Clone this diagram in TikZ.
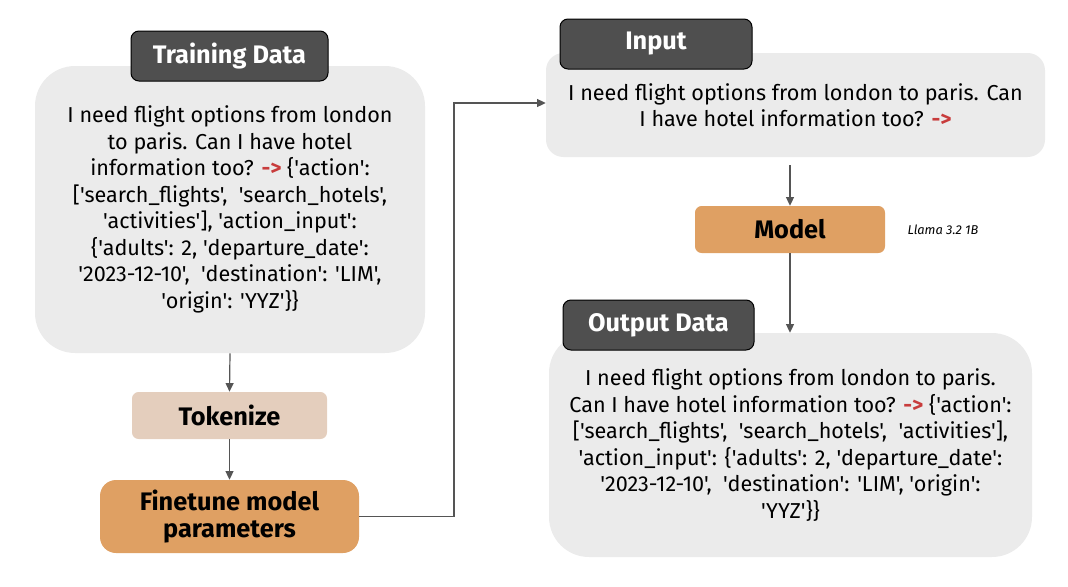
\documentclass[tikz,border=0pt]{standalone}
\usepackage{fontspec}
\setmainfont{Fira Sans}[Ligatures=TeXOff]
\usetikzlibrary{arrows.meta,calc}
\definecolor{boxgray}{HTML}{EBEBEB}
\definecolor{tabdark}{HTML}{4F4F4F}
\definecolor{orangebox}{HTML}{DFA063}
\definecolor{tokbox}{HTML}{E4CEBD}
\definecolor{linegray}{HTML}{555555}
\definecolor{arrowred}{HTML}{C83C3C}
\newcommand{\rarr}{\textcolor{arrowred}{\bfseries ->}}
\tikzset{
  bigbox/.style={fill=boxgray, draw=none, inner sep=0pt, align=center,
    font=\fontsize{16.2pt}{19.9pt}\selectfont},
  tabbox/.style={fill=tabdark, draw=black, line width=0.75pt, rounded corners=6pt,
    inner sep=0pt, text=white, font=\fontsize{19pt}{21pt}\selectfont\bfseries},
  stepbox/.style={draw=none, inner sep=0pt, align=center,
    font=\fontsize{19pt}{20pt}\selectfont\bfseries},
  conn/.style={draw=linegray, line width=0.9pt, -{Triangle[length=6.5pt,width=6pt]}},
}
\begin{document}
\begin{tikzpicture}[x=0.75pt,y=-0.75pt]
\useasboundingbox (0,0) rectangle (1068,586);
% training
\node[bigbox, rounded corners=30pt, minimum width=292.5pt, minimum height=215.25pt] (train) at (230,209.5)
{I need flight options from london\\
to paris. Can I have hotel\\
information too? \rarr\ \{'action':\\\relax
['search\_flights',\ \ 'search\_hotels',\\
'activities'], 'action\_input':\\
\{'adults': 2, 'departure\_date':\\
'2023-12-10',\ \ 'destination': 'LIM',\\
'origin': 'YYZ'\}\}};
\node[tabbox, minimum width=147.75pt, minimum height=37.5pt] (traintab) at (229.5,56) {Training Data};
\node[stepbox, fill=tokbox, rounded corners=5pt, minimum width=146.25pt, minimum height=35.25pt] (tok) at (229.5,415.5) {Tokenize};
\node[stepbox, fill=orangebox, rounded corners=12pt, minimum width=194.25pt, minimum height=54.75pt] (ft) at (229.5,516.5) {Finetune model\\parameters};
% input
\node[bigbox, rounded corners=13pt, minimum width=374.25pt, minimum height=78pt] (inp) at (795.5,105)
{I need flight options from london to paris. Can\\
I have hotel information too? \rarr};
\node[tabbox, minimum width=144pt, minimum height=37.5pt] (inptab) at (656,44) {Input};
\node[stepbox, fill=orangebox, rounded corners=5pt, minimum width=142.5pt, minimum height=35.25pt] (model) at (790,229.5) {Model};
\node[inner sep=0pt, font=\fontsize{9.6pt}{11pt}\selectfont\itshape] (llama) at (943,230) {Llama 3.2 1B};
% output
\node[bigbox, rounded corners=30pt, minimum width=362.25pt, minimum height=168pt] (out) at (790.5,445)
{I need flight options from london to paris.\\
Can I have hotel information too? \rarr\ \{'action':\\\relax
['search\_flights',\ \ 'search\_hotels',\ \ 'activities'],\\
'action\_input': \{'adults': 2, 'departure\_date':\\
'2023-12-10',\ \ 'destination': 'LIM', 'origin':\\
'YYZ'\}\}};
\node[tabbox, minimum width=143.25pt, minimum height=37.5pt] (outtab) at (658.5,325) {Output Data};
% connectors
\draw[conn] (train.south) -- (tok.north);
\draw[conn] (tok.south) -- (ft.north);
\coordinate (bend) at (454,103);
\draw[conn] (ft.east) -| (bend) -- (inp.west |- bend);
\draw[conn, shorten <=6pt] (inp.south -| model.north) -- (model.north);
\draw[conn] (model.south) -- (out.north -| model.south);
\end{tikzpicture}
\end{document}
